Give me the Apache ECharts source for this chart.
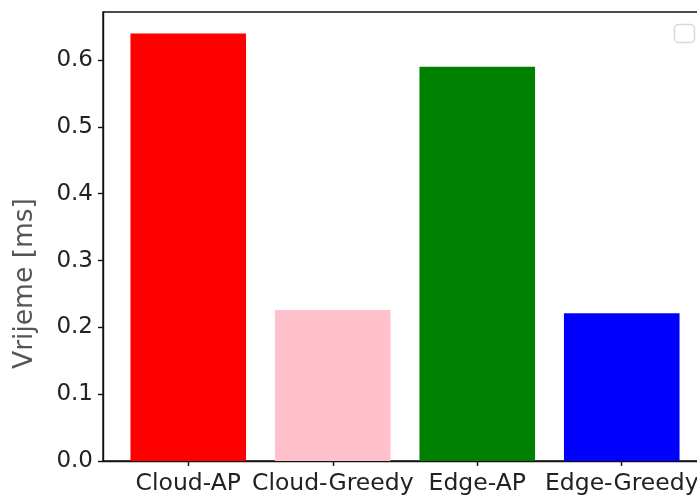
<!DOCTYPE html>
<html>
<head>
<meta charset="utf-8">
<script src="https://cdn.jsdelivr.net/npm/echarts@6/dist/echarts.min.js"></script>
<style>
html,body{margin:0;padding:0;background:#fff;}
#chart{width:697px;height:497px;}
</style>
</head>
<body>
<div id="chart"></div>
<script>
const categories = ['Cloud-AP', 'Cloud-Greedy', 'Edge-AP', 'Edge-Greedy'];
const values = [0.640, 0.226, 0.590, 0.221];
const barColors = ['#ff0000', '#ffc0cb', '#008000', '#0000ff'];
const yTicks = [0, 0.1, 0.2, 0.3, 0.4, 0.5, 0.6];
const xTicks = [0, 1, 2, 3];

const font = 'DejaVu Sans';
const chart = echarts.init(document.getElementById('chart'), null, {renderer: 'canvas'});
chart.setOption({
  animation: false,
  backgroundColor: '#ffffff',
  grid: {left: 103, top: 12, width: 604, height: 449, outerBoundsMode: 'none', containLabel: false, show: true, borderColor: '#111', borderWidth: 1.4, backgroundColor: 'transparent'},
  xAxis: {
    type: 'value', min: -0.59, max: 3.59,
    axisLine: {show: true, onZero: false, lineStyle: {color: '#111', width: 1.4}},
    axisTick: {show: true, customValues: xTicks, length: 5, lineStyle: {color: '#111', width: 1.4}},
    axisLabel: {customValues: xTicks, formatter: v => categories[Math.round(v)], fontFamily: font, fontSize: 23.5, color: '#222', margin: 11, hideOverlap: false},
    splitLine: {show: false}
  },
  yAxis: {
    type: 'value', min: 0, max: 0.672,
    name: 'Vrijeme [ms]', nameLocation: 'middle', nameGap: 64,
    nameTextStyle: {fontFamily: font, fontSize: 26.5, color: '#555', padding: [0, 94, 0, 0]},
    axisLine: {show: true, onZero: false, lineStyle: {color: '#111', width: 1.4}},
    axisTick: {show: true, customValues: yTicks, length: 5, lineStyle: {color: '#111', width: 1.4}},
    axisLabel: {customValues: yTicks, formatter: v => v.toFixed(1), fontFamily: font, fontSize: 23, color: '#222', margin: 10},
    splitLine: {show: false}
  },
  series: [{
    type: 'bar',
    barWidth: '80%',
    data: values.map((v, i) => ({value: [i, v], itemStyle: {color: barColors[i]}}))
  }],
  graphic: [{
    type: 'rect', shape: {x: 674.5, y: 24.5, width: 20, height: 18, r: 4},
    style: {fill: 'transparent', stroke: '#d8d8d8', lineWidth: 1.5}
  }]
});
</script>
</body>
</html>
